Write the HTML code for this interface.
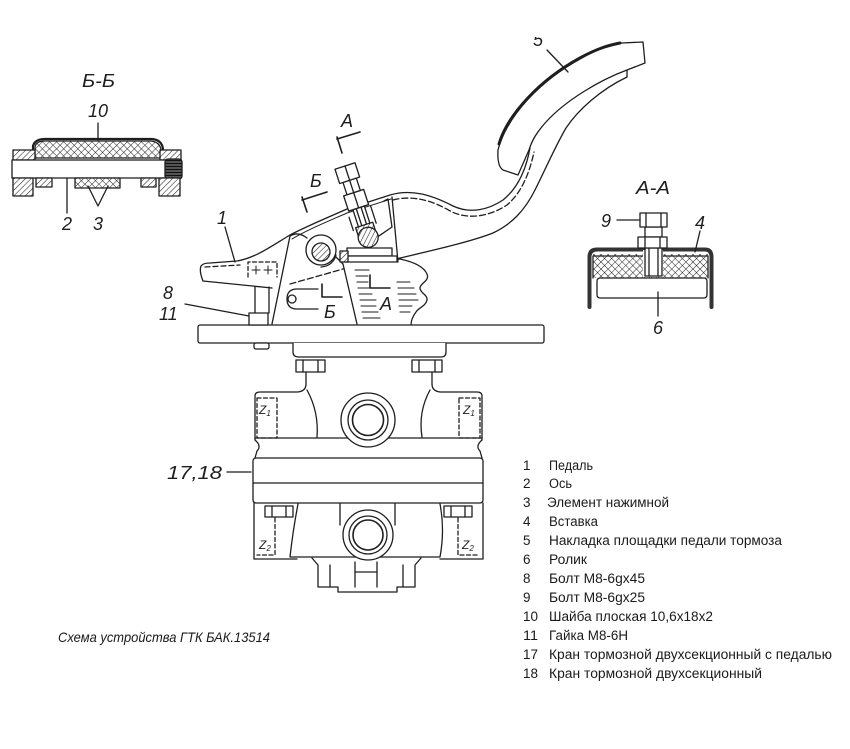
<!DOCTYPE html>
<html>
<head>
<meta charset="utf-8">
<style>
html,body{margin:0;padding:0;background:#fff;}
body{width:850px;height:749px;overflow:hidden;}
svg{display:block;}
.lbl{font-family:"Liberation Sans","DejaVu Sans",sans-serif;font-style:italic;font-size:18px;fill:#1e1e1e;}
.lst{font-family:"Liberation Sans","DejaVu Sans",sans-serif;font-size:13.5px;fill:#1a1a1a;}
.z{font-family:"Liberation Sans",sans-serif;font-style:italic;font-size:12px;fill:#222;}
</style>
</head>
<body>
<svg width="850" height="749" viewBox="0 0 850 749" xmlns="http://www.w3.org/2000/svg">
<defs>
  <pattern id="h" width="4" height="4" patternUnits="userSpaceOnUse" patternTransform="rotate(45)">
    <rect width="4" height="4" fill="#fff"/>
    <line x1="0" y1="0" x2="0" y2="4" stroke="#222" stroke-width="1.1"/>
  </pattern>
  <pattern id="xh" width="5" height="5" patternUnits="userSpaceOnUse" patternTransform="rotate(45)">
    <rect width="5" height="5" fill="#fff"/>
    <path d="M0,0 V5 M0,0 H5" stroke="#222" stroke-width="1"/>
  </pattern>
  <pattern id="dh" width="3" height="3" patternUnits="userSpaceOnUse">
    <rect width="3" height="3" fill="#555"/>
    <line x1="0" y1="1.5" x2="3" y2="1.5" stroke="#111" stroke-width="1"/>
  </pattern>
</defs>
<rect width="850" height="749" fill="#fff"/>

<g fill="none" stroke="#1e1e1e" stroke-width="1.3" stroke-linejoin="round" stroke-linecap="round">

<!-- ===== Section Б-Б ===== -->
<path d="M35,158 L35,147 Q36,141 45,141 L151,141 Q160,142 161,150 L161,158 Z" fill="url(#xh)"/>
<path d="M33,158 L33,146 Q35,139 45,139 L152,139 Q162,140 163,149 L163,158" stroke-width="2.2"/>
<rect x="13" y="150" width="22" height="10" fill="url(#h)"/>
<rect x="160" y="150" width="21" height="10" fill="url(#h)"/>
<rect x="12" y="160" width="155" height="18" fill="#fff"/>
<rect x="165" y="159" width="17" height="20" rx="3" fill="url(#dh)"/>
<rect x="13" y="178" width="20" height="18" fill="url(#h)"/>
<rect x="159" y="178" width="21" height="18" fill="url(#h)"/>
<rect x="36" y="178" width="16" height="9" fill="url(#h)"/>
<rect x="75" y="178" width="45" height="10" fill="url(#xh)"/>
<rect x="141" y="178" width="15" height="9" fill="url(#h)"/>
<line x1="98" y1="123" x2="98" y2="140"/>
<line x1="67" y1="178" x2="67" y2="213"/>
<path d="M88,186 L98,206 L108,186"/>

<!-- ===== Section A-A ===== -->
<path d="M589.5,307 L589.5,257 Q589.5,249.5 597,249.5 L705,249.5 Q711.5,249.5 711.5,257 L711.5,307" stroke="#333" stroke-width="4"/>
<rect x="593" y="254" width="115" height="24" fill="url(#xh)" stroke="none"/>
<path d="M593,278 L593,256 L708,256 L708,278"/>
<rect x="643" y="250" width="20" height="27" fill="#fff" stroke="none"/>
<rect x="597" y="278" width="110" height="20" rx="3" fill="#fff"/>
<rect x="645" y="227" width="17" height="10" fill="#fff"/>
<rect x="645" y="248" width="17" height="28" fill="#fff"/>
<line x1="649" y1="248" x2="649" y2="276"/>
<line x1="658" y1="248" x2="658" y2="276"/>
<rect x="640" y="213" width="27" height="14" fill="#fff"/>
<line x1="646" y1="213" x2="646" y2="227"/><line x1="661" y1="213" x2="661" y2="227"/>
<rect x="638" y="237" width="29" height="11" fill="#fff"/>
<line x1="645" y1="237" x2="645" y2="248"/><line x1="660" y1="237" x2="660" y2="248"/>
<line x1="617" y1="220" x2="640" y2="220"/>
<line x1="700" y1="231" x2="695" y2="252"/>
<line x1="658" y1="292" x2="658" y2="316"/>

<!-- ===== Base plate & block ===== -->
<rect x="198" y="325" width="346" height="18" rx="2" fill="#fff"/>
<path d="M293,343 L293,352 Q293,357 299,357 L441,357 Q446,357 446,352 L446,343" fill="#fff"/>
<rect x="254" y="343" width="15" height="6" rx="2" fill="#fff"/>
<rect x="296" y="360" width="29" height="12" fill="#fff"/>
<line x1="303" y1="360" x2="303" y2="372"/><line x1="318" y1="360" x2="318" y2="372"/>
<rect x="412" y="360" width="30" height="12" fill="#fff"/>
<line x1="419" y1="360" x2="419" y2="372"/><line x1="435" y1="360" x2="435" y2="372"/>

<!-- ===== Valve body upper ===== -->
<path d="M255,440 L255,396 Q255,392 260,392 L298,392 Q306,391 306,384 L306,372"/>
<path d="M482,440 L482,396 Q482,392 477,392 L440,392 Q432,391 432,384 L432,372"/>
<path d="M307,390 Q319,412 317,437"/>
<path d="M430,390 Q418,412 422,437"/>
<line x1="255" y1="438" x2="482" y2="438"/>
<path d="M255,440 Q262,446 257,451 L255,458"/>
<path d="M482,440 Q475,446 480,451 L482,458"/>
<rect x="257" y="398" width="20" height="40" stroke-dasharray="4,2.5"/>
<rect x="459" y="398" width="21" height="40" stroke-dasharray="4,2.5"/>
<circle cx="368" cy="420" r="27" fill="#fff"/>
<circle cx="368" cy="420" r="20"/>
<circle cx="368" cy="420" r="15.5" stroke-width="1.6"/>

<!-- band 17,18 -->
<rect x="253" y="458" width="230" height="45" rx="3" fill="#fff"/>
<line x1="253" y1="483" x2="483" y2="483"/>
<line x1="227" y1="472" x2="251" y2="472"/>

<!-- lower body -->
<path d="M254,503 L254,559 L297,559"/>
<path d="M483,503 L483,559 L440,559"/>
<path d="M298,504 Q293,530 290,557 L440,557 Q445,530 440,504"/>
<rect x="265" y="506" width="28" height="11" fill="#fff"/>
<line x1="272" y1="506" x2="272" y2="517"/><line x1="286" y1="506" x2="286" y2="517"/>
<rect x="444" y="506" width="28" height="11" fill="#fff"/>
<line x1="451" y1="506" x2="451" y2="517"/><line x1="465" y1="506" x2="465" y2="517"/>
<path d="M275,518 L275,555 L257,555" stroke-dasharray="4,2.5"/>
<path d="M458,518 L458,555 L478,555" stroke-dasharray="4,2.5"/>
<line x1="340" y1="504" x2="340" y2="525"/>
<line x1="395" y1="504" x2="395" y2="525"/>
<circle cx="368" cy="535" r="25" fill="#fff"/>
<circle cx="368" cy="535" r="19"/>
<circle cx="368" cy="535" r="15" stroke-width="1.6"/>
<path d="M312,558 L318,565 L318,587 L338,587 L338,592 L397,592 L397,587 L415,587 L415,565 L421,558"/>
<line x1="330" y1="565" x2="330" y2="587"/>
<line x1="355" y1="562" x2="355" y2="587"/>
<line x1="377" y1="562" x2="377" y2="587"/>
<line x1="355" y1="572" x2="377" y2="572"/>
<line x1="403" y1="565" x2="403" y2="587"/>

<!-- ===== Pedal ===== -->
<!-- pad 5 -->
<path d="M498,150 C506,118 540,80 580,58 C598,48 612,44 622,43 L643,42 L645,63 L627,70 C600,80 566,100 546,122 C537,132 532,140 529,150 L518,175 L503,170 Q497,166 498,150 Z" fill="#fff"/>
<path d="M499,144 C508,114 540,80 580,58 C598,48 610,45 620,43" stroke-width="3"/>
<path d="M627,70 L627,77"/>
<line x1="547" y1="50" x2="568" y2="72"/>
<!-- arm right/lower outline -->
<path d="M627,77 C600,90 578,110 566,128 C556,145 545,170 535,190 C525,210 512,224 493,233 C470,242 430,251 396,259"/>
<!-- upper outline -->
<path d="M203,281 Q199,271 201,266 Q203,263 210,263 L237,261 C255,258 270,247 290,235 C305,227 322,220 347,209 L390,195 C410,189 430,194 453,206 C470,214 488,210 503,200 C518,188 526,170 530,148" fill="none"/>
<!-- dashed inner line -->
<path d="M393,200 C412,195 432,200 452,212 C470,220 490,216 507,205 C521,193 529,175 534,152" stroke-dasharray="6,3"/>
<path d="M292,239 C305,231 322,224 347,213 L391,199" stroke-width="1"/>
<path d="M205,267 L240,265" stroke-dasharray="5,3"/>
<!-- tip bottom -->
<path d="M203,281 L272,288"/>
<path d="M290,284 L343,269" stroke-dasharray="6,3"/>
<!-- bolt 8 -->
<line x1="255" y1="287" x2="255" y2="313"/>
<line x1="269" y1="287" x2="269" y2="313"/>
<rect x="249" y="313" width="19" height="12" fill="#fff"/>
<path d="M248,277 L248,262 L277,262 L277,277" stroke-dasharray="4,2.5"/>
<path d="M256,266 v8 M252,270 h8 M268,266 v8 M264,270 h8" stroke-width="1"/>
<line x1="185" y1="304" x2="249" y2="316"/>
<!-- bracket -->
<line x1="290" y1="236" x2="272" y2="324"/>
<path d="M336,257 L343,264 L357,324"/>
<path d="M290,236 Q298,231 307,238"/>
<!-- slot -->
<path d="M318,289 L297,289 Q287,289 287,299 Q287,309 297,309 L318,309"/>
<circle cx="292" cy="299" r="4"/>
<!-- boot -->
<path d="M343,262 L400,259 C414,262 424,267 427,274 C430,281 420,283 420,288 C420,293 428,295 427,300 C426,306 418,308 416,312 C413,316 411,320 411,325"/>
<g stroke-width="1.1">
<path d="M355,270 H369 M356,276 H368 M357,282 H368 M358,288 H369 M359,294 H372 M360,300 H376 M361,306 H376 M362,312 H378 M363,318 H380"/>
<path d="M397,282 H410 M398,288 H414 M398,294 H416 M399,300 H418 M399,306 H412 M400,312 H410"/>
</g>
<!-- axle circle -->
<circle cx="321" cy="250" r="15" fill="#fff"/>
<circle cx="321" cy="252" r="9" fill="url(#h)"/>
<path d="M336,255 Q333,266 321,267"/>
<!-- roller plate -->
<rect x="347" y="248" width="45" height="8" fill="#fff"/>
<rect x="345" y="256" width="52" height="6" fill="#fff"/>
<rect x="340" y="251" width="8" height="11" fill="url(#h)"/>
<!-- housing right of bolt -->
<path d="M384,201 L388,199 L392,227 L373,240"/>
<path d="M392,197 L398,262"/>
<!-- bolt 9 -->
<g transform="translate(345,166) rotate(-18)">
  <rect x="-6" y="44" width="12" height="22" fill="#fff"/>
  <line x1="-2.5" y1="44" x2="-2.5" y2="66"/>
  <line x1="2.5" y1="44" x2="2.5" y2="66"/>
  <path d="M-12,50 L-12,64 M12,46 L12,64" />
  <rect x="-10.5" y="28" width="21" height="16" fill="#fff"/>
  <line x1="0" y1="28" x2="0" y2="44"/>
  <rect x="-7" y="15" width="14" height="13" fill="#fff"/>
  <line x1="0" y1="15" x2="0" y2="28"/>
  <rect x="-10.5" y="0" width="21" height="15" fill="#fff"/>
  <line x1="0" y1="0" x2="0" y2="15"/>
  <path d="M-9,62 L9,62 L9,70 L-9,70 Z" fill="url(#h)"/>
  <circle cx="0" cy="75" r="10" fill="url(#h)"/>
</g>
<!-- section markers -->
<path d="M337,139 L360,132 M337,137 L342,153" stroke-width="1.6"/>
<path d="M302,200 L327,192 M302,197 L307,212" stroke-width="1.6"/>
<path d="M322,284 L322,297 L342,297" stroke-width="1.6"/>
<path d="M370,275 L370,288 L390,288" stroke-width="1.6"/>
<line x1="225" y1="227" x2="235" y2="262"/>
</g>

<!-- ===== Labels ===== -->
<text class="lbl" x="533" y="46">5</text>
<rect x="520" y="0" width="40" height="37" fill="#fff"/>
<text class="lbl" x="82" y="87" textLength="33" lengthAdjust="spacingAndGlyphs">Б-Б</text>
<text class="lbl" x="88" y="117">10</text>
<text class="lbl" x="62" y="230">2</text>
<text class="lbl" x="93" y="230">3</text>
<text class="lbl" x="217" y="224">1</text>
<text class="lbl" x="163" y="299">8</text>
<text class="lbl" x="159" y="320">11</text>
<text class="lbl" x="341" y="127">A</text>
<text class="lbl" x="310" y="187">Б</text>
<text class="lbl" x="324" y="318">Б</text>
<text class="lbl" x="380" y="310">A</text>
<text class="lbl" x="167" y="479" textLength="55" lengthAdjust="spacingAndGlyphs">17,18</text>
<text class="lbl" x="636" y="194" textLength="34" lengthAdjust="spacingAndGlyphs">A-A</text>
<text class="lbl" x="601" y="227">9</text>
<text class="lbl" x="695" y="229">4</text>
<text class="lbl" x="653" y="334">6</text>
<text class="z" x="259" y="414">Z<tspan font-size="8" dy="2">1</tspan></text>
<text class="z" x="463" y="414">Z<tspan font-size="8" dy="2">1</tspan></text>
<text class="z" x="259" y="549">Z<tspan font-size="8" dy="2">2</tspan></text>
<text class="z" x="462" y="549">Z<tspan font-size="8" dy="2">2</tspan></text>

<!-- caption -->
<text x="58" y="642" font-family="Liberation Sans, sans-serif" font-style="italic" font-size="14" fill="#1a1a1a" textLength="212" lengthAdjust="spacingAndGlyphs">Схема устройства ГТК БАК.13514</text>

<!-- list -->
<g class="lst">
<text x="523" y="470">1</text><text x="549" y="470" textLength="44" lengthAdjust="spacingAndGlyphs">Педаль</text>
<text x="523" y="488">2</text><text x="549" y="488" textLength="23" lengthAdjust="spacingAndGlyphs">Ось</text>
<text x="523" y="507">3</text><text x="547" y="507" textLength="122" lengthAdjust="spacingAndGlyphs">Элемент нажимной</text>
<text x="523" y="526">4</text><text x="549" y="526" textLength="49" lengthAdjust="spacingAndGlyphs">Вставка</text>
<text x="523" y="545">5</text><text x="549" y="545" textLength="233" lengthAdjust="spacingAndGlyphs">Накладка площадки педали тормоза</text>
<text x="523" y="564">6</text><text x="549" y="564" textLength="38" lengthAdjust="spacingAndGlyphs">Ролик</text>
<text x="523" y="583">8</text><text x="549" y="583" textLength="96" lengthAdjust="spacingAndGlyphs">Болт М8-6gx45</text>
<text x="523" y="602">9</text><text x="549" y="602" textLength="96" lengthAdjust="spacingAndGlyphs">Болт М8-6gx25</text>
<text x="523" y="621" textLength="15" lengthAdjust="spacingAndGlyphs">10</text><text x="549" y="621" textLength="164" lengthAdjust="spacingAndGlyphs">Шайба плоская 10,6x18x2</text>
<text x="523" y="640" textLength="15" lengthAdjust="spacingAndGlyphs">11</text><text x="549" y="640" textLength="79" lengthAdjust="spacingAndGlyphs">Гайка М8-6Н</text>
<text x="523" y="659" textLength="15" lengthAdjust="spacingAndGlyphs">17</text><text x="549" y="659" textLength="283" lengthAdjust="spacingAndGlyphs">Кран тормозной двухсекционный с педалью</text>
<text x="523" y="678" textLength="15" lengthAdjust="spacingAndGlyphs">18</text><text x="549" y="678" textLength="213" lengthAdjust="spacingAndGlyphs">Кран тормозной двухсекционный</text>
</g>
</svg>
</body>
</html>
